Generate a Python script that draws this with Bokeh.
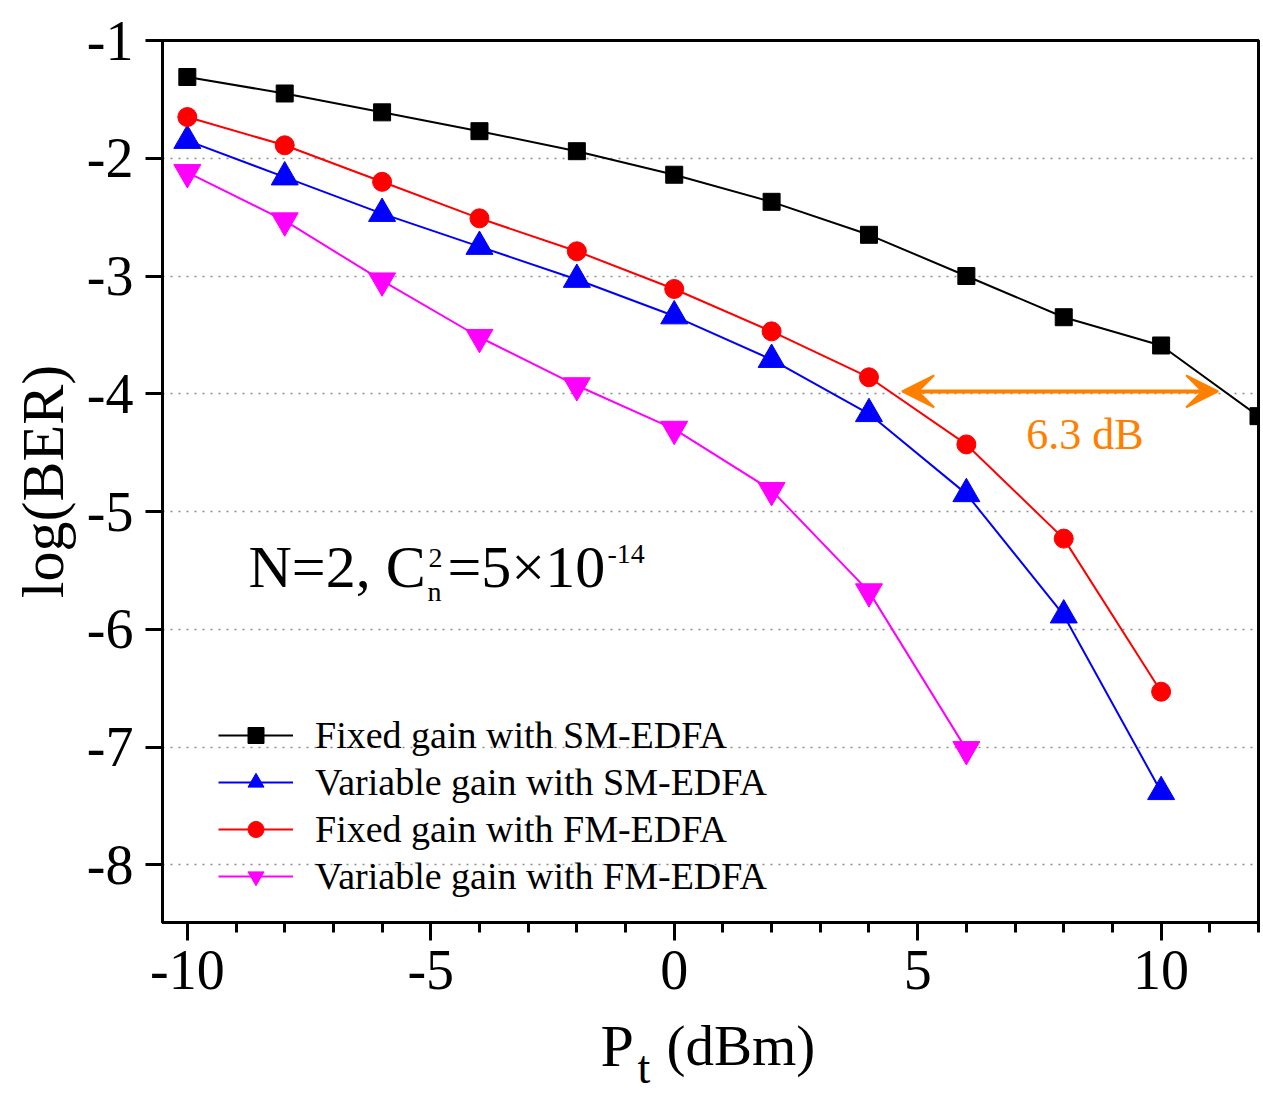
from bokeh.core.properties import value
from bokeh.embed import file_html
from bokeh.layouts import column
from bokeh.models import (Arrow, FixedTicker, Label, Legend, LegendItem,
                          Range1d, VeeHead)
from bokeh.plotting import figure
from bokeh.resources import INLINE

# Transmitted power (dBm)
power_dbm = [-10, -8, -6, -4, -2, 0, 2, 4, 6, 8, 10, 12]

# log10(BER) for each amplifier configuration
fixed_sm = [-1.31, -1.45, -1.61, -1.77, -1.94, -2.14, -2.37, -2.65, -3.00, -3.35, -3.59, -4.19]
variable_sm = [-1.85, -2.16, -2.47, -2.75, -3.03, -3.34, -3.71, -4.17, -4.85, -5.88, -7.38]
fixed_fm = [-1.65, -1.89, -2.20, -2.51, -2.79, -3.11, -3.47, -3.86, -4.43, -5.23, -6.53]
variable_fm = [-2.12, -2.53, -3.04, -3.52, -3.93, -4.30, -4.82, -5.68, -7.02]

series_names = [
    "Fixed gain with SM-EDFA",
    "Variable gain with SM-EDFA",
    "Fixed gain with FM-EDFA",
    "Variable gain with FM-EDFA",
]

x_ticks = [-10, -5, 0, 5, 10]
x_tick_labels = ["-10", "-5", "0", "5", "10"]
x_minor_ticks = list(range(-10, 13))
y_ticks = [-8, -7, -6, -5, -4, -3, -2, -1]
y_tick_labels = ["-8", "-7", "-6", "-5", "-4", "-3", "-2", "-1"]
grid_levels = [-8, -7, -6, -5, -4, -3, -2]

# power penalty marker between the two fixed-gain curves
gap_start, gap_end, gap_level = 4.68, 11.17, -3.98
gap_text = "6.3 dB"

SERIF = "Liberation Serif"
ORANGE = "#FF8000"
W = 1263
MAIN_H = 1010
TITLE_H = 88
FRAME_LEFT, FRAME_RIGHT = 162, 1258

p = figure(
    width=W, height=MAIN_H,
    output_backend="svg", toolbar_location=None,
    x_range=Range1d(-10.51, 12.0), y_range=Range1d(-8.49, -1.0),
    min_border_left=FRAME_LEFT, min_border_right=W - FRAME_RIGHT,
    min_border_top=40, min_border_bottom=88,
    background_fill_color="white", border_fill_color="white",
)

p.outline_line_color = "black"
p.outline_line_width = 3

# axes
p.xaxis.ticker = FixedTicker(ticks=x_ticks, minor_ticks=x_minor_ticks)
p.xaxis.major_label_overrides = dict(zip(x_ticks, x_tick_labels))
p.yaxis.ticker = FixedTicker(ticks=y_ticks, minor_ticks=[])
p.yaxis.major_label_overrides = dict(zip(y_ticks, y_tick_labels))

for ax in (p.xaxis, p.yaxis):
    ax.axis_line_width = 3
    ax.axis_line_color = "black"
    ax.major_tick_line_width = 3
    ax.minor_tick_line_width = 3
    ax.major_tick_in = 0
    ax.minor_tick_in = 0
    ax.major_label_text_font = SERIF
    ax.major_label_text_font_size = "56px"
    ax.major_label_text_color = "black"

p.xaxis.major_tick_out = 18
p.xaxis.minor_tick_out = 10
p.xaxis.major_label_standoff = 10
p.yaxis.major_tick_out = 17
p.yaxis.minor_tick_out = 0
p.yaxis.major_label_standoff = 12

p.yaxis.axis_label = "log(BER)"
p.yaxis.axis_label_text_font = SERIF
p.yaxis.axis_label_text_font_size = "60px"
p.yaxis.axis_label_text_font_style = "normal"
p.yaxis.axis_label_text_color = "black"
p.yaxis.axis_label_standoff = 8

p.xgrid.visible = False
p.ygrid.ticker = FixedTicker(ticks=grid_levels)
p.ygrid.grid_line_color = "#8c8c8c"
p.ygrid.grid_line_dash = "2 6"
p.ygrid.grid_line_width = 1.5

# curves
styles = [
    (power_dbm[:len(fixed_sm)], fixed_sm, "black", "square", 17),
    (power_dbm[:len(variable_sm)], variable_sm, "blue", "triangle", 27),
    (power_dbm[:len(fixed_fm)], fixed_fm, "red", "circle", 19),
    (power_dbm[:len(variable_fm)], variable_fm, "magenta", "inverted_triangle", 27),
]

items = []
for name, (xs, ys, color, marker, size) in zip(series_names, styles):
    ln = p.line(xs, ys, line_color=color, line_width=2)
    sc = p.scatter(xs, ys, marker=marker, size=size,
                   fill_color=color, line_color=color, line_width=1)
    items.append(LegendItem(label=name, renderers=[ln, sc]))

legend = Legend(
    items=items, location=(56, 24),
    label_text_font=SERIF, label_text_font_size="38px",
    label_text_color="black",
    glyph_width=75, glyph_height=40, label_height=40,
    spacing=3, label_standoff=22, padding=0, margin=0,
    border_line_alpha=0, background_fill_alpha=0,
)
p.add_layout(legend)

# power penalty arrow and label
p.add_layout(Arrow(
    x_start=gap_start, y_start=gap_level, x_end=gap_end, y_end=gap_level,
    line_color=ORANGE, line_width=4,
    start=VeeHead(size=32, fill_color=ORANGE, line_color=ORANGE, line_width=2),
    end=VeeHead(size=32, fill_color=ORANGE, line_color=ORANGE, line_width=2),
))
p.add_layout(Label(
    x=7.23, y=-4.35, text=gap_text, text_color=ORANGE,
    text_font=SERIF, text_font_size="44px", text_baseline="alphabetic",
))


def screen_label(x, y, text, size):
    p.add_layout(Label(
        x=x, y=y, x_units="screen", y_units="screen", text=text,
        text_font=SERIF, text_font_size=size, text_color="black",
        text_baseline="alphabetic",
    ))


# turbulence condition annotation
screen_label(86, 356, "N=2, C", "60px")
screen_label(266, 365, "2", "28px")
screen_label(265, 331, "n", "28px")
screen_label(285, 356, "=5\u00d710", "60px")
screen_label(445, 369, "-14", "28px")

# x-axis title strip below the plot (P with subscript t); its frame lines up
# with the main frame, so the x range is expressed in page pixels
t = figure(
    width=W, height=TITLE_H, output_backend="svg", toolbar_location=None,
    x_range=Range1d(FRAME_LEFT, FRAME_RIGHT), y_range=Range1d(0, TITLE_H),
    x_axis_location=None, y_axis_location=None,
    min_border_left=FRAME_LEFT, min_border_right=W - FRAME_RIGHT,
    min_border_top=0, min_border_bottom=0, outline_line_color=None,
    background_fill_color="white", border_fill_color="white",
)
t.grid.visible = False
t.text(x=[600], y=[53], text=["P"], text_font=value(SERIF),
       text_font_size=value("60px"), text_color="black", text_baseline="alphabetic")
t.text(x=[637], y=[31], text=["t"], text_font=value(SERIF),
       text_font_size=value("46px"), text_color="black", text_baseline="alphabetic")
t.text(x=[666], y=[53], text=["(dBm)"], text_font=value(SERIF),
       text_font_size=value("57px"), text_color="black", text_baseline="alphabetic")

layout = column(p, t, spacing=0)
open("out.html", "w").write(file_html(layout, INLINE))
